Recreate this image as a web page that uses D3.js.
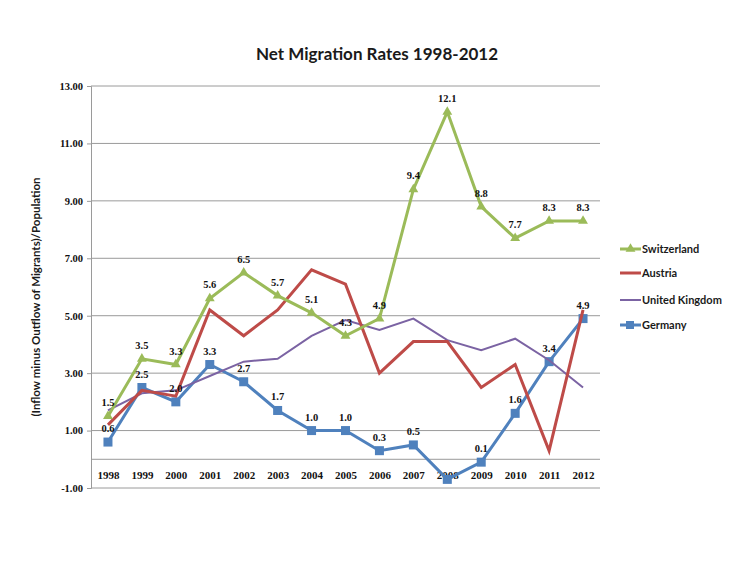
<!DOCTYPE html>
<html>
<head>
<meta charset="utf-8">
<script src="https://cdn.jsdelivr.net/npm/d3@7"></script>
<style>
  html, body { margin: 0; padding: 0; background: #fff; }
  svg { display: block; }
</style>
</head>
<body>
<svg id="chart" width="750" height="563"></svg>
<script>
const years = ["1998","1999","2000","2001","2002","2003","2004","2005","2006","2007","2008","2009","2010","2011","2012"];
const switzerland = [1.5, 3.5, 3.3, 5.6, 6.5, 5.7, 5.1, 4.3, 4.9, 9.4, 12.1, 8.8, 7.7, 8.3, 8.3];
const austria     = [1.2, 2.4, 2.2, 5.2, 4.3, 5.2, 6.6, 6.1, 3.0, 4.1, 4.1, 2.5, 3.3, 0.3, 5.2];
const uk          = [1.7, 2.3, 2.4, 2.9, 3.4, 3.5, 4.3, 4.85, 4.5, 4.9, 4.15, 3.8, 4.2, 3.45, 2.5];
const germany     = [0.6, 2.5, 2.0, 3.3, 2.7, 1.7, 1.0, 1.0, 0.3, 0.5, -0.7, -0.1, 1.6, 3.4, 4.9];
const switzerlandLabels = ["1.5","3.5","3.3","5.6","6.5","5.7","5.1","4.3","4.9","9.4","12.1","8.8","7.7","8.3","8.3"];
const germanyLabels     = ["0.6","2.5","2.0","3.3","2.7","1.7","1.0","1.0","0.3","0.5",null,"0.1","1.6","3.4","4.9"];
const yTicks = [-1, 1, 3, 5, 7, 9, 11, 13];

const series = [
  { name: "Germany", values: germany, color: "#4F81BD", width: 3, marker: "square", labels: germanyLabels },
  { name: "United Kingdom", values: uk, color: "#7B63A3", width: 2, marker: null, labels: null },
  { name: "Austria", values: austria, color: "#BE4B48", width: 3, marker: null, labels: null },
  { name: "Switzerland", values: switzerland, color: "#9BBB59", width: 3, marker: "triangle", labels: switzerlandLabels }
];
const legendOrder = ["Switzerland", "Austria", "United Kingdom", "Germany"];

const svg = d3.select("#chart");
const pLeft = 91, pRight = 600, pTop = 86, pBottom = 488;

const x = d3.scalePoint().domain(years).range([pLeft, pRight]).padding(0.5);
const y = d3.scaleLinear().domain([-1, 13]).range([pBottom, pTop]);

// Title
svg.append("text")
  .attr("x", 377).attr("y", 60)
  .attr("text-anchor", "middle")
  .style("font-family", "Lato, 'Open Sans', sans-serif")
  .style("font-weight", "bold")
  .style("font-size", "17px")
  .attr("fill", "#1a1a1a")
  .text("Net Migration Rates 1998-2012");

// Gridlines
svg.append("g")
  .selectAll("line")
  .data(yTicks)
  .join("line")
  .attr("x1", pLeft).attr("x2", pRight)
  .attr("y1", d => y(d)).attr("y2", d => y(d))
  .attr("stroke", "#9a9a9a")
  .attr("stroke-width", 1);

// Y axis
const fmt2 = d3.format(".2f");
const yAxis = d3.axisLeft(y).tickValues(yTicks).tickFormat(d => d < 0 ? "-" + fmt2(-d) : fmt2(d)).tickSize(4).tickPadding(4);
const yg = svg.append("g").attr("transform", `translate(${pLeft},0)`).call(yAxis);
yg.select(".domain").attr("stroke", "#9a9a9a");
yg.selectAll(".tick line").attr("stroke", "#9a9a9a");
yg.selectAll("text")
  .style("font-family", "'Liberation Serif', serif")
  .style("font-weight", "bold")
  .style("font-size", "10.5px")
  .attr("fill", "#111");

// X axis at zero
const xAxis = d3.axisBottom(x).tickSize(0).tickPadding(12);
const xg = svg.append("g").attr("transform", `translate(0,${y(0)})`).call(xAxis);
xg.select(".domain").attr("stroke", "#9a9a9a").attr("d", `M${pLeft},0H${pRight}`);
xg.selectAll("text")
  .style("font-family", "'Liberation Serif', serif")
  .style("font-weight", "bold")
  .style("font-size", "11px")
  .attr("fill", "#111");

// Y axis title
svg.append("text")
  .attr("transform", `translate(40,${(pTop + pBottom) / 2 + 10}) rotate(-90)`)
  .attr("text-anchor", "middle")
  .style("font-family", "Lato, 'Open Sans', sans-serif")
  .style("font-weight", "bold")
  .style("font-size", "11.5px")
  .attr("fill", "#1a1a1a")
  .text("(Inflow minus Outflow of Migrants)/Population");

// Lines
const line = d3.line().x((d, i) => x(years[i])).y(d => y(d));
const triangle = d3.symbol().type(d3.symbolTriangle).size(42);

series.forEach(s => {
  const g = svg.append("g");
  g.append("path")
    .datum(s.values)
    .attr("d", line)
    .attr("fill", "none")
    .attr("stroke", s.color)
    .attr("stroke-width", s.width)
    .attr("stroke-linejoin", "miter");
  if (s.marker === "square") {
    g.selectAll("rect").data(s.values).join("rect")
      .attr("x", (d, i) => x(years[i]) - 4.5)
      .attr("y", d => y(d) - 4.5)
      .attr("width", 9).attr("height", 9)
      .attr("fill", s.color);
  } else if (s.marker === "triangle") {
    g.selectAll("path.m").data(s.values).join("path")
      .attr("class", "m")
      .attr("d", triangle)
      .attr("transform", (d, i) => `translate(${x(years[i])},${y(d)})`)
      .attr("fill", s.color);
  }
});

// Data labels
series.filter(s => s.labels).forEach(s => {
  svg.append("g").selectAll("text")
    .data(s.values.map((v, i) => ({ v, i, t: s.labels[i] })).filter(d => d.t))
    .join("text")
    .attr("x", d => x(years[d.i]))
    .attr("y", d => y(d.v) - 10)
    .attr("text-anchor", "middle")
    .style("font-family", "'Liberation Serif', serif")
    .style("font-weight", "bold")
    .style("font-size", "10.5px")
    .attr("fill", "#111")
    .text(d => d.t);
});

// Legend
const legendY = [249, 273, 300, 325];
const lg = svg.append("g");
legendOrder.forEach((name, k) => {
  const s = series.find(d => d.name === name);
  const g = lg.append("g").attr("transform", `translate(620,${legendY[k]})`);
  g.append("line").attr("x1", 0).attr("x2", 21).attr("y1", 0).attr("y2", 0)
    .attr("stroke", s.color).attr("stroke-width", s.width);
  if (s.marker === "square") {
    g.append("rect").attr("x", 6).attr("y", -4).attr("width", 8).attr("height", 8).attr("fill", s.color);
  } else if (s.marker === "triangle") {
    g.append("path").attr("d", triangle).attr("transform", "translate(10.5,0)").attr("fill", s.color);
  }
  g.append("text")
    .attr("x", 22).attr("y", 4)
    .style("font-family", "Lato, 'Open Sans', sans-serif")
    .style("font-weight", "bold")
    .style("font-size", "11px")
    .attr("fill", "#1a1a1a")
    .text(name);
});
</script>
</body>
</html>
